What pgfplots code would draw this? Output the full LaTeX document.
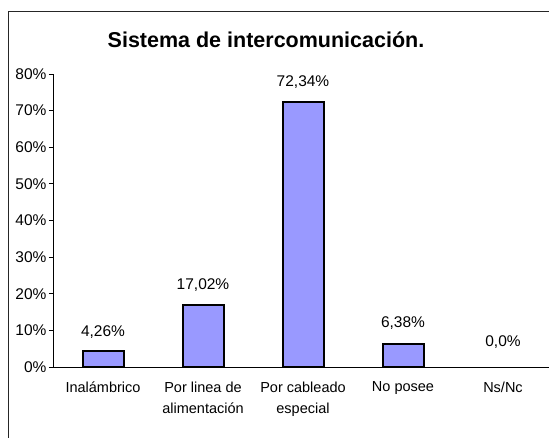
\documentclass[border=0pt]{standalone}
\usepackage{pgfplots}
\pgfplotsset{compat=1.18}
\usepackage{fontspec}
\setmainfont{Liberation Sans}
\definecolor{barfill}{HTML}{9999FF}

\begin{document}
\begin{tikzpicture}
\useasboundingbox (0,0) rectangle (549pt,438pt);
% chart frame (cut off at right and bottom in the original)
\draw[line width=1pt, black!85] (8pt,-5pt) -- (8pt,426pt) -- (560pt,426pt);
\node[font=\bfseries\fontsize{21.5}{24}\selectfont] at (266pt,398pt) {Sistema de intercomunicación.};
\begin{axis}[
    at={(53pt,71pt)}, anchor=south west,
    scale only axis,
    width=500pt, height=293pt,
    xmin=-0.5, xmax=4.5,
    ymin=0, ymax=80,
    axis lines=left,
    axis line style={-, line width=0.8pt},
    xtick={0,1,2,3,4},
    xticklabels={Inalámbrico, Por linea de\\alimentación, Por cableado\\especial, No posee, Ns/Nc},
    xticklabel style={align=center, font=\fontsize{14.5}{21}\selectfont, yshift=-7pt},
    major x tick style={draw=none},
    extra x ticks={-0.5,0.5,1.5,2.5,3.5,4.5},
    extra x tick labels={},
    extra x tick style={major tick length=5pt, tick align=outside, tick style={black, line width=0.8pt}},
    ytick={0,10,...,80},
    yticklabels={0\%,10\%,20\%,30\%,40\%,50\%,60\%,70\%,80\%},
    yticklabel style={font=\fontsize{15.5}{18}\selectfont, xshift=1pt},
    tick align=outside,
    major tick length=4pt,
    tick style={black, line width=0.8pt},
    clip=false,
]
\addplot[ybar, bar width=41pt, fill=barfill, draw=black, line width=2pt] coordinates {
    (0,4.26) (1,17.02) (2,72.34) (3,6.38)
};
% value labels, at the heights where the original puts them
\addplot[only marks, mark=none, nodes near coords, point meta=explicit symbolic,
    every node near coord/.style={anchor=center, font=\fontsize{15.5}{18}\selectfont}]
    table[meta=label] {
x y label
0 9.6 4,26\%
1 22.4 17,02\%
2 77.9 72,34\%
3 12.0 6,38\%
4 6.8 0,0\%
};
\end{axis}
\end{tikzpicture}
\end{document}
